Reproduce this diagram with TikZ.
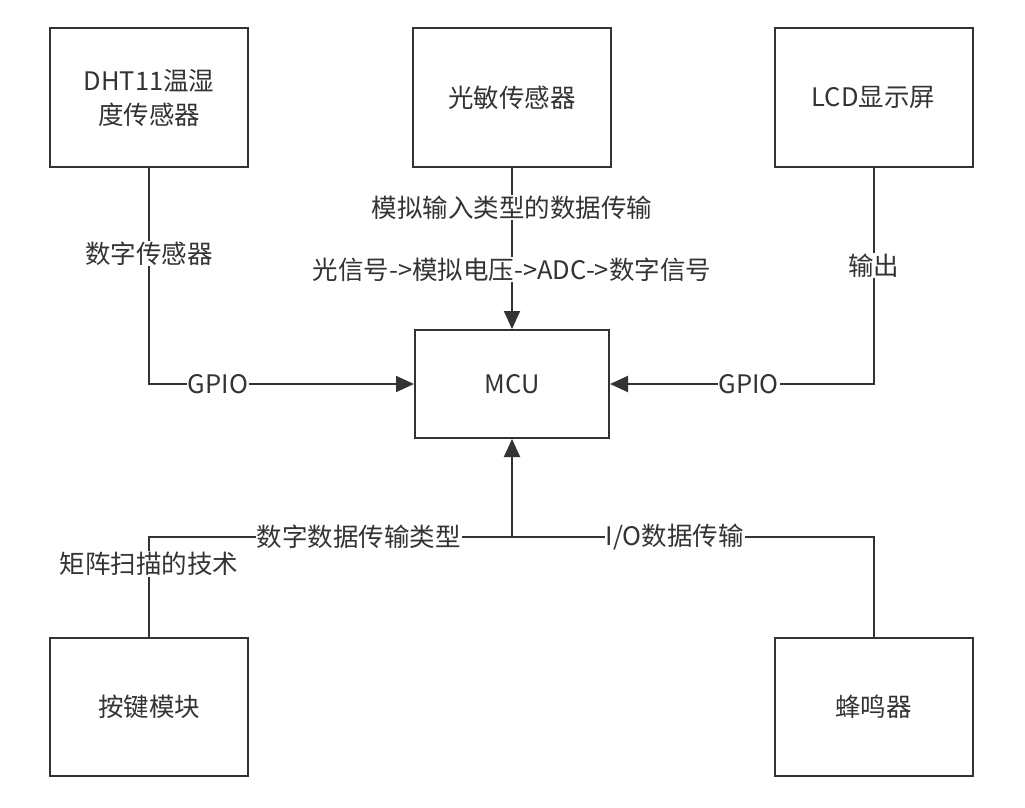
\documentclass[tikz,border=0pt]{standalone}
\usepackage{fontspec}
\setmainfont{Noto Sans CJK SC}
\usetikzlibrary{arrows.meta}
\definecolor{ink}{HTML}{333333}
\tikzset{
  box/.style={draw=ink, line width=2pt, minimum width=198pt, minimum height=139pt, inner sep=0pt, text=ink, font=\fontsize{25.5}{34}\selectfont, align=center},
  conn/.style={draw=ink, line width=2pt},
  arr/.style={conn, -{Triangle[length=18pt,width=16pt]}},
  lbl/.style={fill=white, text=ink, inner sep=1pt, font=\fontsize{25.5}{30}\selectfont}
}
\begin{document}
\begin{tikzpicture}[x=1pt,y=-1pt]
\useasboundingbox (0,0) rectangle (1025,807);
\node[box] (dht) at (149,97.5) {DHT11温湿\\度传感器};
\node[box] (light) at (512,97.5) {光敏传感器};
\node[box] (lcd) at (873.5,97.5) {LCD显示屏};
\node[box, minimum width=194pt, minimum height=108pt] (mcu) at (512,384) {MCU};
\node[box, minimum height=138pt] (key) at (149,707) {按键模块};
\node[box, minimum height=138pt] (buzz) at (873.5,707) {蜂鸣器};
\coordinate (j) at (512,537);

\draw[arr] (dht.south) |- (mcu.west)
  node[lbl, pos=0.198] {数字传感器}
  node[lbl, pos=0.63] {GPIO};
\draw[arr] (light.south) -- (mcu.north)
  node[lbl, pos=0.245] {模拟输入类型的数据传输}
  node[lbl, pos=0.63] {光信号->模拟电压->ADC->数字信号};
\draw[arr] (lcd.south) |- (mcu.east)
  node[lbl, pos=0.226] {输出}
  node[lbl, pos=0.737] {GPIO};
\draw[conn] (key.north) |- (j)
  node[lbl, pos=0.366] {矩阵扫描的技术}
  node[lbl, pos=0.789] {数字数据传输类型};
\draw[conn] (buzz.north) |- (j)
  node[lbl, pos=0.775] {I/O数据传输};
\draw[arr] (j) -- (mcu.south);
\end{tikzpicture}
\end{document}
